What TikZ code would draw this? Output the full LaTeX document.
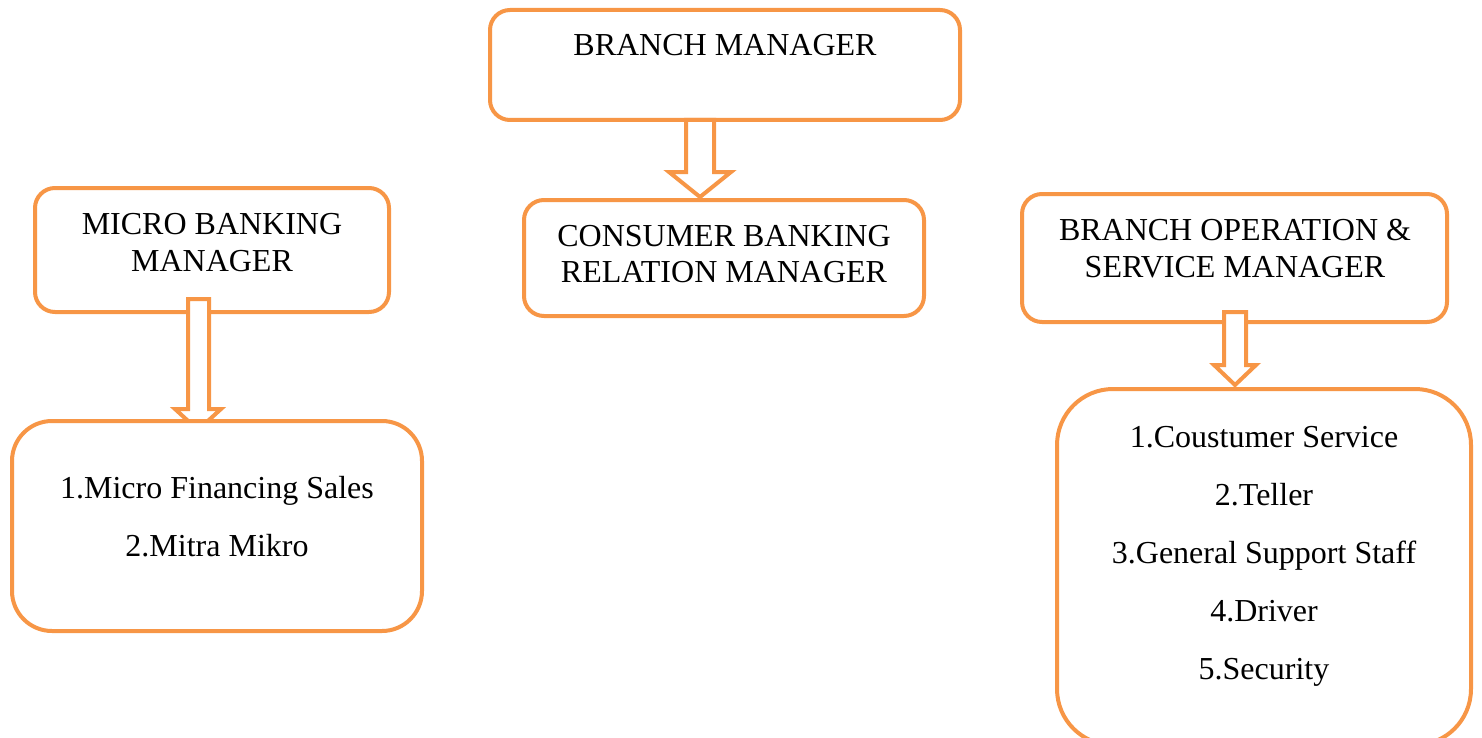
\documentclass[tikz,border=0pt]{standalone}
\usepackage{fontspec}
\setmainfont{Liberation Serif}
\definecolor{org}{HTML}{F79646}
\begin{document}
\begin{tikzpicture}[x=0.5pt,y=-0.5pt,
  box/.style={draw=org,fill=white,line width=2pt,rounded corners=#1,inner sep=0pt},
  txt/.style={anchor=base,inner sep=0pt,font=\fontsize{16}{19}\selectfont},
  blockarr/.style={draw=org,fill=white,line width=2pt,line join=miter}]
\useasboundingbox (0,0) rectangle (1482,738);
% upper boxes
\node[box=10pt,minimum width=235pt,minimum height=55pt] (bm) at (725,65) {};
\node[box=10pt,minimum width=200pt,minimum height=58pt] (cb) at (724,258) {};
\node[box=10pt,minimum width=177pt,minimum height=62pt] (mb) at (212,250) {};
\node[box=10pt,minimum width=212.5pt,minimum height=64pt] (bo) at (1234.5,258) {};
% arrows
\draw[blockarr] (686,120) -- (714,120) -- (714,172) -- (731,172) -- (700,197) -- (669,172) -- (686,172) -- cycle;
\draw[blockarr] (188,299) -- (209,299) -- (209,409) -- (221,409) -- (198,430) -- (175,409) -- (188,409) -- cycle;
\draw[blockarr] (1224,312) -- (1246,312) -- (1246,365) -- (1256,365) -- (1235,385) -- (1214,365) -- (1224,365) -- cycle;
% lower boxes
\node[box=20pt,minimum width=205pt,minimum height=105pt] (ml) at (217,526) {};
\node[box=28pt,minimum width=207pt,minimum height=178pt] (rl) at (1264,567) {};
% texts
\node[txt] (t1) at (725,56) {BRANCH MANAGER};
\node[txt] (t2) at (724,246) {CONSUMER BANKING};
\node[txt] (t3) at (724,282) {RELATION MANAGER};
\node[txt] (t4) at (212,234) {MICRO BANKING};
\node[txt] (t5) at (212,271) {MANAGER};
\node[txt] (t6) at (1235,240) {BRANCH OPERATION \&};
\node[txt] (t7) at (1235,277) {SERVICE MANAGER};
\node[txt] (t8) at (217,498) {1.Micro Financing Sales};
\node[txt] (t9) at (217,556) {2.Mitra Mikro};
\node[txt] (r1) at (1264,447) {1.Coustumer Service};
\node[txt] (r2) at (1264,505) {2.Teller};
\node[txt] (r3) at (1264,563) {3.General Support Staff};
\node[txt] (r4) at (1264,621) {4.Driver};
\node[txt] (r5) at (1264,679) {5.Security};
\end{tikzpicture}
\end{document}
